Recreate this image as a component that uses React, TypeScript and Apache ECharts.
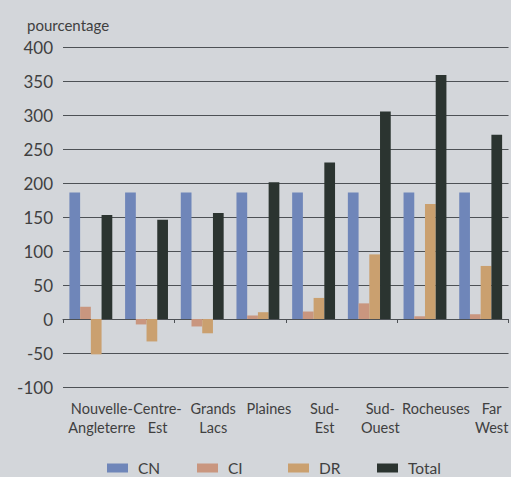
import React, { useEffect, useRef } from "react";
import * as echarts from "echarts";

const categories = [
  "Nouvelle-\nAngleterre",
  "Centre-\nEst",
  "Grands\nLacs",
  "Plaines",
  "Sud-\nEst",
  "Sud-\nOuest",
  "Rocheuses",
  "Far\nWest",
];
const cnValues = [186, 186, 186, 186, 186, 186, 186, 186];
const ciValues = [18, -8, -11, 5, 11, 23, 4, 7];
const drValues = [-52, -33, -21, 10, 31, 95, 169, 78];
const totalValues = [153, 146, 156, 201, 230, 305, 359, 271];
const seriesNames = ["CN", "CI", "DR", "Total"];
const yAxisTitle = "pourcentage";

const colors = ["#6f86b9", "#c9967f", "#caa06f", "#2b3430"];
const FONT = "Lato, 'Open Sans', sans-serif";
const TEXT = "#404040";
const LINE = "#4d5155";

export default function App() {
  const ref = useRef<HTMLDivElement>(null);
  useEffect(() => {
    if (!ref.current) return;
    const chart = echarts.init(ref.current, null, { renderer: "svg" });
    const values = [cnValues, ciValues, drValues, totalValues];
    const legendLefts = [107, 197, 288, 377];
    chart.setOption({
      animation: false,
      backgroundColor: "#d3d6da",
      textStyle: { fontFamily: FONT },
      title: {
        text: yAxisTitle,
        left: 22,
        top: 12,
        textStyle: { fontFamily: FONT, fontSize: 15, fontWeight: "normal", color: TEXT },
      },
      legend: seriesNames.map((n, i) => ({
        data: [n],
        left: legendLefts[i],
        top: 460,
        padding: 0,
        itemWidth: 21,
        itemHeight: 9,
        icon: "rect",
        textStyle: { fontFamily: FONT, fontSize: 15.5, color: TEXT, padding: [0, 0, 0, 5] },
      })),
      grid: { left: 63, right: -3, top: 47, bottom: 90, containLabel: false },
      xAxis: [
        {
          type: "category",
          data: categories,
          axisLine: { show: true, onZero: true, lineStyle: { color: LINE, width: 1 } },
          axisTick: { show: true, length: 4, lineStyle: { color: LINE } },
          axisLabel: { show: false },
          splitLine: { show: false },
        },
        {
          type: "category",
          data: categories,
          position: "bottom",
          axisLine: { show: false, onZero: false },
          axisTick: { show: false },
          axisLabel: {
            show: true,
            interval: 0,
            margin: 12,
            fontFamily: FONT,
            fontSize: 14.5,
            lineHeight: 19,
            color: TEXT,
            padding: [0, 0, 0, 22],
          },
        },
      ],
      yAxis: {
        type: "value",
        min: -100,
        max: 400,
        interval: 50,
        axisLine: { show: false },
        axisTick: { show: false },
        axisLabel: { fontFamily: FONT, fontSize: 17, color: TEXT, margin: 10 },
        splitLine: { show: true, lineStyle: { color: LINE, width: 1 } },
      },
      series: seriesNames.map((n, i) => ({
        name: n,
        type: "bar",
        xAxisIndex: 0,
        data: values[i],
        barGap: "0%",
        barCategoryGap: "23%",
        itemStyle: { color: colors[i] },
      })),
    });
    return () => chart.dispose();
  }, []);
  return (
    <div
      ref={ref}
      style={{ position: "absolute", left: 0, top: 0, width: 511, height: 477 }}
    />
  );
}
